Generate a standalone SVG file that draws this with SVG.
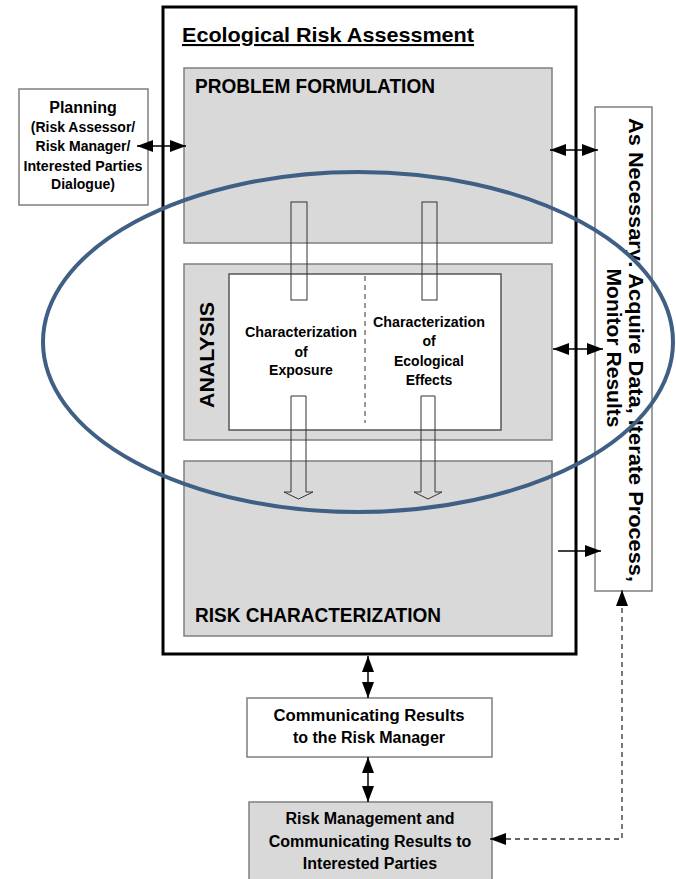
<svg xmlns="http://www.w3.org/2000/svg" width="676" height="879" viewBox="0 0 676 879">
<style>
.t{font-family:"Liberation Sans",Arial,sans-serif;font-weight:bold;fill:#000}
.gray{fill:#d9d9d9;stroke:#7f7f7f;stroke-width:1.5}
.white{fill:#fff;stroke:#7f7f7f;stroke-width:1.5}
.conn{stroke:#000;stroke-width:1.5;fill:none}
.blk{fill:none;stroke:#333;stroke-width:1}
</style>
<defs>
<marker id="ah" viewBox="0 0 16 12" refX="16" refY="6" markerWidth="16" markerHeight="12" markerUnits="userSpaceOnUse" orient="auto-start-reverse">
<path d="M0,0 L16,6 L0,12 Z" fill="#000"/>
</marker>
</defs>
<rect width="676" height="879" fill="#fff"/>

<g id="era">
<rect x="163" y="7" width="413" height="647" fill="#fff" stroke="#000" stroke-width="3"/>
<text class="t" x="182" y="42" font-size="21" textLength="292" lengthAdjust="spacingAndGlyphs" text-decoration="underline">Ecological Risk Assessment</text>
</g>

<g id="problem-formulation">
<rect class="gray" x="184" y="68" width="368" height="175"/>
<text class="t" x="195" y="93" font-size="20" textLength="240" lengthAdjust="spacingAndGlyphs">PROBLEM FORMULATION</text>
</g>

<g id="analysis">
<rect class="gray" x="184" y="264" width="368" height="176"/>
<text class="t" transform="translate(214,355) rotate(-90)" text-anchor="middle" font-size="20" textLength="106" lengthAdjust="spacingAndGlyphs">ANALYSIS</text>
<rect x="229" y="274" width="272" height="156" fill="#fff" stroke="#555" stroke-width="1.5"/>
<line x1="365" y1="276" x2="365" y2="423" stroke="#333" stroke-width="1" stroke-dasharray="5,4"/>
<text class="t" font-size="14" text-anchor="middle"><tspan x="301" y="337" textLength="112" lengthAdjust="spacingAndGlyphs">Characterization</tspan><tspan x="301" y="357">of</tspan><tspan x="301" y="375">Exposure</tspan></text>
<text class="t" font-size="14" text-anchor="middle"><tspan x="429" y="327" textLength="112" lengthAdjust="spacingAndGlyphs">Characterization</tspan><tspan x="429" y="346">of</tspan><tspan x="429" y="366">Ecological</tspan><tspan x="429" y="385">Effects</tspan></text>
</g>

<g id="risk-characterization">
<rect class="gray" x="184" y="461" width="368" height="175"/>
<text class="t" x="195" y="622" font-size="20" textLength="246" lengthAdjust="spacingAndGlyphs">RISK CHARACTERIZATION</text>
</g>

<g id="planning">
<rect class="white" x="19" y="89" width="129" height="116"/>
<text class="t" text-anchor="middle"><tspan x="83" y="113" font-size="16">Planning</tspan><tspan x="83" y="132" font-size="14">(Risk Assessor/</tspan><tspan x="83" y="151" font-size="14">Risk Manager/</tspan><tspan x="83" y="171" font-size="14" textLength="119" lengthAdjust="spacingAndGlyphs">Interested Parties</tspan><tspan x="83" y="189" font-size="14">Dialogue)</tspan></text>
</g>

<g id="as-necessary">
<rect class="white" x="595" y="107" width="57" height="484"/>
<text class="t" transform="translate(629,350) rotate(90)" text-anchor="middle" font-size="21" textLength="464" lengthAdjust="spacingAndGlyphs">As Necessary: Acquire Data, Iterate Process,</text>
<text class="t" transform="translate(607,348) rotate(90)" text-anchor="middle" font-size="21" textLength="159" lengthAdjust="spacingAndGlyphs">Monitor Results</text>
</g>

<g id="communicating">
<rect class="white" x="247" y="698" width="245" height="59"/>
<text class="t" font-size="16" text-anchor="middle"><tspan x="369" y="721" textLength="191" lengthAdjust="spacingAndGlyphs">Communicating Results</tspan><tspan x="369" y="743">to the Risk Manager</tspan></text>
</g>

<g id="risk-management">
<rect class="gray" x="249" y="802" width="243" height="90"/>
<text class="t" font-size="16" text-anchor="middle"><tspan x="370" y="824">Risk Management and</tspan><tspan x="370" y="847">Communicating Results to</tspan><tspan x="370" y="869">Interested Parties</tspan></text>
</g>

<g id="connectors">
<rect class="blk" x="291" y="202" width="16" height="98"/>
<rect class="blk" x="422" y="202" width="15" height="98"/>
<path class="blk" d="M291 396 L306 396 L306 492 L313 492 L298.5 499 L284 492 L291 492 Z"/>
<path class="blk" d="M421 396 L435 396 L435 492 L442 492 L428 499 L414 492 L421 492 Z"/>
<line class="conn" x1="137" y1="146" x2="186" y2="146" marker-start="url(#ah)" marker-end="url(#ah)"/>
<line class="conn" x1="550" y1="150" x2="598" y2="150" marker-start="url(#ah)" marker-end="url(#ah)"/>
<line class="conn" x1="553" y1="349" x2="603" y2="349" marker-start="url(#ah)" marker-end="url(#ah)"/>
<line class="conn" x1="558" y1="551" x2="601" y2="551" marker-end="url(#ah)"/>
<line class="conn" x1="368" y1="656" x2="368" y2="698" marker-start="url(#ah)" marker-end="url(#ah)"/>
<line class="conn" x1="368" y1="757" x2="368" y2="802" marker-start="url(#ah)" marker-end="url(#ah)"/>
<path d="M622 590 L622 839 L490 839" fill="none" stroke="#333" stroke-width="1.3" stroke-dasharray="5,4" marker-start="url(#ah)" marker-end="url(#ah)"/>
</g>

<ellipse cx="358" cy="342" rx="315" ry="170" fill="none" stroke="#3f6084" stroke-width="4"/>
</svg>
